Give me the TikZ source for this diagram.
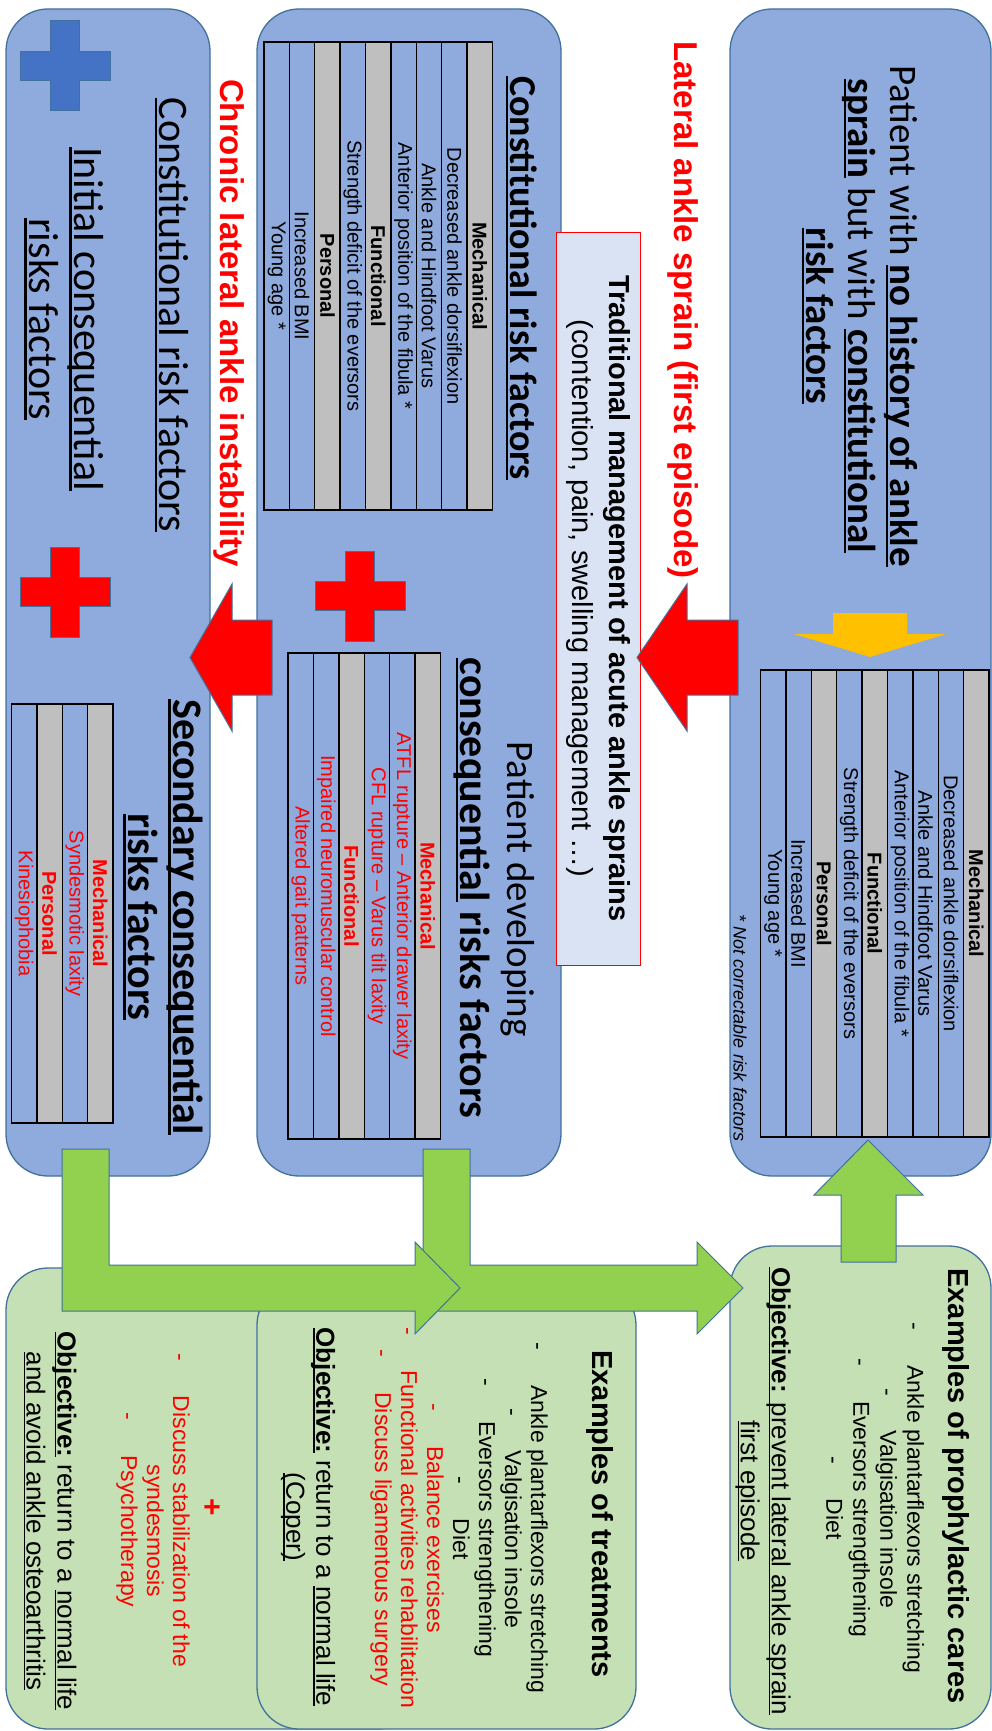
\documentclass[tikz,border=0pt]{standalone}
\usepackage{fontspec}
\setmainfont{Carlito}
\newfontfamily\arialf{Liberation Sans}

\definecolor{boxblue}{HTML}{8FAADC}
\definecolor{boxedge}{HTML}{41719C}
\definecolor{boxgreen}{HTML}{C5E0B4}
\definecolor{arrowgreen}{HTML}{92D050}
\definecolor{tabgrey}{HTML}{BFBFBF}
\definecolor{tradfill}{HTML}{DAE3F3}
\definecolor{crossblue}{HTML}{4472C4}
\definecolor{gold}{HTML}{FFC000}
\definecolor{alertred}{HTML}{FF0000}

\newsavebox\ulbox
\newcommand{\ulx}[1]{\sbox\ulbox{#1}\rlap{\rule[-0.12em]{\wd\ulbox}{0.055em}}\usebox\ulbox}
\newcommand{\dashgap}{-\hspace{35pt}}
\def\colw{25.4}

% risk table: name, right x, top y, bottom y, text colour, columns
\newcommand{\risktable}[6]{%
  \foreach \fillc/\txt [count=\i] in {#6} {
    \draw[tabline, fill=\fillc] ({#2-\i*\colw}, #3) rectangle ({#2-(\i-1)*\colw}, #4);
    \node[tabtext, text=#5] (#1-\i) at ({#2-(\i-0.5)*\colw}, {(#3+#4)/2}) {\txt};
  }}

\tikzset{plussign/.pic={\path[pic actions] (-45,-14.5) -- (-14.5,-14.5) -- (-14.5,-45) -- (14.5,-45) -- (14.5,-14.5) -- (45,-14.5) -- (45,14.5) -- (14.5,14.5) -- (14.5,45) -- (-14.5,45) -- (-14.5,14.5) -- (-45,14.5) -- cycle;}}

\begin{document}
\begin{tikzpicture}[x=1pt, y=-1pt,
  every node/.style={inner sep=0pt},
  panel/.style={draw=boxedge, line width=1.3pt, fill=boxblue, rounded corners=42pt},
  care/.style={draw=boxedge, line width=1.3pt, fill=boxgreen, rounded corners=42pt},
  tradbox/.style={draw=alertred, line width=1pt, fill=tradfill},
  tabline/.style={draw=black, line width=1.4pt},
  tabtext/.style={rotate=-90, font=\arialf\fontsize{20pt}{22pt}\selectfont},
  vtext/.style={rotate=-90, align=center},
  blockred/.style={fill=alertred, draw=boxedge, line width=1pt},
  blockgreen/.style={fill=arrowgreen, draw=boxedge, line width=1pt},
  blockgold/.style={fill=gold},
  redcross/.style={fill=alertred, draw=boxedge, line width=1pt},
  bluecross/.style={fill=crossblue, draw=boxedge, line width=1pt}]
\useasboundingbox (0,0) rectangle (992,1731);

% panels
\node[panel, minimum width=261pt, minimum height=1167pt] (riskfree) at (860.5,592.5) {};
\node[panel, minimum width=304pt, minimum height=1167pt] (developing) at (409,592.5) {};
\node[panel, minimum width=204pt, minimum height=1167pt] (chronic) at (108,592.5) {};
\node[care, minimum width=414pt, minimum height=461pt] (secondcare) at (213,1498.5) {};
\node[care, minimum width=379pt, minimum height=446pt] (treatcare) at (446.5,1506) {};
\node[care, minimum width=261pt, minimum height=483pt] (prophcare) at (860.5,1487.5) {};
\node[tradbox, rotate=-90, minimum width=733pt, minimum height=84pt, align=center,
  font=\arialf\fontsize{29pt}{37pt}\selectfont] (trad) at (598,598.5)
  {\textbf{Traditional management of acute ankle sprains}\\(contention, pain, swelling management …)};

% tables
\risktable{tabA}{989}{670}{1137}{black}{tabgrey/\textbf{Mechanical}, boxblue/Decreased ankle dorsiflexion, boxblue/Ankle and Hindfoot Varus, boxblue/Anterior position of the fibula *, tabgrey/\textbf{Functional}, boxblue/Strength deficit of the eversors, tabgrey/\textbf{Personal}, boxblue/Increased BMI, boxblue/Young age *}
\risktable{tabB}{492.5}{42}{510}{black}{tabgrey/\textbf{Mechanical}, boxblue/Decreased ankle dorsiflexion, boxblue/Ankle and Hindfoot Varus, boxblue/Anterior position of the fibula *, tabgrey/\textbf{Functional}, boxblue/Strength deficit of the eversors, tabgrey/\textbf{Personal}, boxblue/Increased BMI, boxblue/Young age *}
\risktable{tabBB}{440.5}{653}{1139}{alertred}{tabgrey/\textbf{Mechanical}, boxblue/ATFL rupture – Anterior drawer laxity, boxblue/CFL rupture – Varus tilt laxity, tabgrey/\textbf{Functional}, boxblue/Impaired neuromuscular control, boxblue/Altered gait patterns}
\risktable{tabC}{113}{704}{1123}{alertred}{tabgrey/\textbf{Mechanical}, boxblue/Syndesmotic laxity, tabgrey/\textbf{Personal}, boxblue/Kinesiophobia}

% crosses and arrows
\pic[bluecross] at (65,66) {plussign};
\pic[redcross] at (65,592) {plussign};
\pic[redcross] at (360,596) {plussign};
\fill[blockgold] (833,613) -- (907,613) -- (907,634) -- (946,634) -- (870,657) -- (794,634) -- (833,634) -- cycle;
\draw[blockred] (738,620) -- (687,620) -- (687,584) -- (637,657.5) -- (687,731) -- (687,695) -- (738,695) -- cycle;
\draw[blockred] (272,620) -- (232,620) -- (232,584) -- (190,657.5) -- (232,731) -- (232,695) -- (272,695) -- cycle;
\draw[blockgreen] (423,1149) -- (470,1149) -- (470,1265) -- (697,1265) -- (697,1242) -- (743,1288) -- (697,1334) -- (697,1311) -- (423,1311) -- cycle;
\draw[blockgreen] (62,1149) -- (109,1149) -- (109,1265) -- (415,1265) -- (415,1242) -- (460,1288) -- (415,1334) -- (415,1311) -- (62,1311) -- cycle;
\draw[blockgreen] (841,1262) -- (841,1195) -- (814,1195) -- (868,1140) -- (923,1195) -- (896,1195) -- (896,1262) -- cycle;

% texts
\node[vtext, font=\fontsize{39pt}{42pt}\selectfont] (riskfreetitle) at (860,316)
  {Patient with \ulx{\textbf{no history of ankle}}\\\ulx{\textbf{sprain}} but with \ulx{\textbf{constitutional}}\\\ulx{\textbf{risk factors}}};
\node[vtext, font=\arialf\itshape\fontsize{18pt}{20pt}\selectfont] (notecorr) at (740,1028) {* Not correctable risk factors};
\node[vtext, text=alertred, font=\arialf\bfseries\fontsize{33pt}{36pt}\selectfont] (sprainlbl) at (683,310) {Lateral ankle sprain (first episode)};
\node[vtext, font=\bfseries\fontsize{38pt}{42pt}\selectfont] (consttitle) at (522,278) {\ulx{Constitutional risk factors}};
\node[vtext, font=\fontsize{39pt}{42pt}\selectfont] (devtitle) at (518,889) {Patient developing};
\node[vtext, font=\bfseries\fontsize{42pt}{46pt}\selectfont] (devsub) at (472,888) {\ulx{consequential} risks factors};
\node[vtext, text=alertred, font=\arialf\bfseries\fontsize{33pt}{36pt}\selectfont] (chroniclbl) at (229,323) {Chronic lateral ankle instability};
\node[vtext, font=\fontsize{42pt}{45pt}\selectfont] (chronconst) at (172,315) {\ulx{Constitutional risk factors}};
\node[vtext, font=\fontsize{42pt}{45pt}\selectfont] (chroninit) at (64,319) {\ulx{Initial consequential}\\\ulx{risks factors}};
\node[vtext, font=\bfseries\fontsize{42pt}{45pt}\selectfont] (chronsec) at (163,917) {\ulx{Secondary consequential}\\\ulx{risks factors}};

\node[vtext, font=\arialf\bfseries\fontsize{29pt}{30pt}\selectfont] (prophtitle) at (956,1486) {Examples of prophylactic cares};
\node[vtext, font=\arialf\fontsize{23pt}{27pt}\selectfont] (prophlist) at (875,1498)
  {\dashgap Ankle plantarflexors stretching\\\dashgap Valgisation insole\\\dashgap Eversors strengthening\\\dashgap Diet};
\node[vtext, font=\arialf\fontsize{26pt}{31pt}\selectfont] (prophgoal) at (763,1491)
  {\ulx{\textbf{Objective:} prevent lateral ankle sprain}\\\ulx{first episode}};

\node[vtext, font=\arialf\bfseries\fontsize{29pt}{30pt}\selectfont] (treattitle) at (600,1514) {Examples of treatments};
\node[vtext, font=\arialf\fontsize{23pt}{26pt}\selectfont] (treatlist) at (459,1518)
  {\dashgap Ankle plantarflexors stretching\\\dashgap Valgisation insole\\\dashgap Eversors strengthening\\\dashgap Diet\\
   \textcolor{alertred}{\dashgap Balance exercises}\\\textcolor{alertred}{\dashgap Functional activities rehabilitation}\\\textcolor{alertred}{\dashgap Discuss ligamentous surgery}};
\node[vtext, font=\arialf\fontsize{26pt}{30pt}\selectfont] (treatgoal) at (308,1517)
  {\ulx{\textbf{Objective:}} return to a \ulx{normal life}\\\ulx{(Coper)}};

\node[vtext, text=alertred, font=\arialf\bfseries\fontsize{30pt}{32pt}\selectfont] (plusmark) at (211,1507) {+};
\node[vtext, text=alertred, font=\arialf\fontsize{23pt}{26pt}\selectfont] (secondlist) at (153,1510)
  {\dashgap Discuss stabilization of the\\\hspace*{42pt}syndesmosis\\\dashgap Psychotherapy};
\node[vtext, font=\arialf\fontsize{26pt}{31pt}\selectfont] (secondgoal) at (50,1521)
  {\ulx{\textbf{Objective:}} return to a \ulx{normal life}\\\ulx{and avoid ankle osteoarthritis}};
\end{tikzpicture}
\end{document}
